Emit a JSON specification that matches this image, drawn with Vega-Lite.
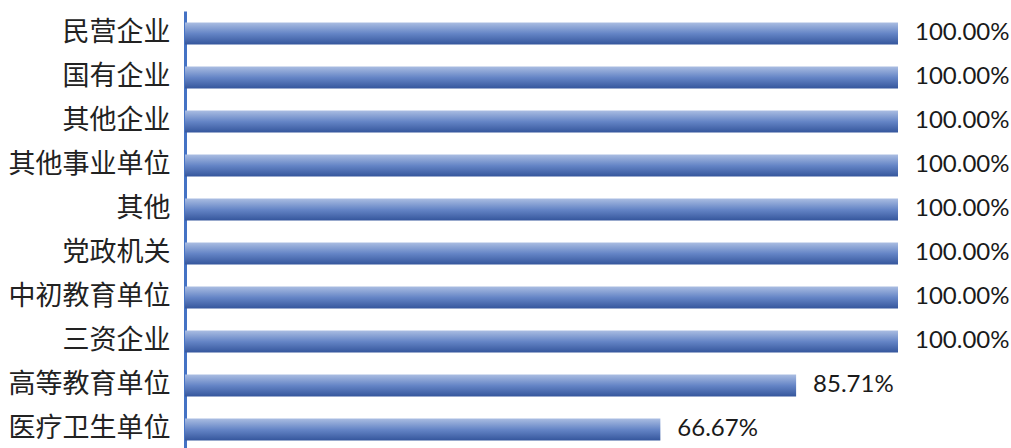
{
  "$schema": "https://vega.github.io/schema/vega-lite/v6.json",
  "autosize": {"type": "none"},
  "padding": {"left": 185, "top": 11, "right": 113, "bottom": 0},
  "width": 713,
  "height": 437,
  "background": "white",
  "config": {"view": {"stroke": null}},
  "data": {
    "values": [
      {"category": "民营企业", "rate": 1.0, "label": "100.00%"},
      {"category": "国有企业", "rate": 1.0, "label": "100.00%"},
      {"category": "其他企业", "rate": 1.0, "label": "100.00%"},
      {"category": "其他事业单位", "rate": 1.0, "label": "100.00%"},
      {"category": "其他", "rate": 1.0, "label": "100.00%"},
      {"category": "党政机关", "rate": 1.0, "label": "100.00%"},
      {"category": "中初教育单位", "rate": 1.0, "label": "100.00%"},
      {"category": "三资企业", "rate": 1.0, "label": "100.00%"},
      {"category": "高等教育单位", "rate": 0.8571, "label": "85.71%"},
      {"category": "医疗卫生单位", "rate": 0.6667, "label": "66.67%"}
    ]
  },
  "encoding": {
    "y": {
      "field": "category",
      "type": "nominal",
      "sort": null,
      "scale": {"paddingInner": 0.5, "paddingOuter": 0.216, "align": 0.605},
      "axis": {
        "title": null,
        "ticks": false,
        "domainColor": "#4472c4",
        "domainWidth": 3,
        "labelFont": "Noto Sans CJK SC",
        "labelFontSize": 27,
        "labelColor": "#222222",
        "labelPadding": 15
      }
    },
    "x": {
      "field": "rate",
      "type": "quantitative",
      "scale": {"domain": [0, 1], "nice": false},
      "axis": null
    }
  },
  "layer": [
    {
      "mark": {
        "type": "bar",
        "x": 2,
        "color": {
          "gradient": "linear",
          "x1": 0, "y1": 0, "x2": 0, "y2": 1,
          "stops": [
            {"offset": 0, "color": "#aabde2"},
            {"offset": 0.5, "color": "#6585c6"},
            {"offset": 1, "color": "#35569c"}
          ]
        }
      }
    },
    {
      "mark": {
        "type": "text",
        "align": "left",
        "baseline": "middle",
        "dx": 17,
        "font": "Lato",
        "fontSize": 24,
        "color": "#1a1a1a"
      },
      "encoding": {"text": {"field": "label"}}
    }
  ]
}
